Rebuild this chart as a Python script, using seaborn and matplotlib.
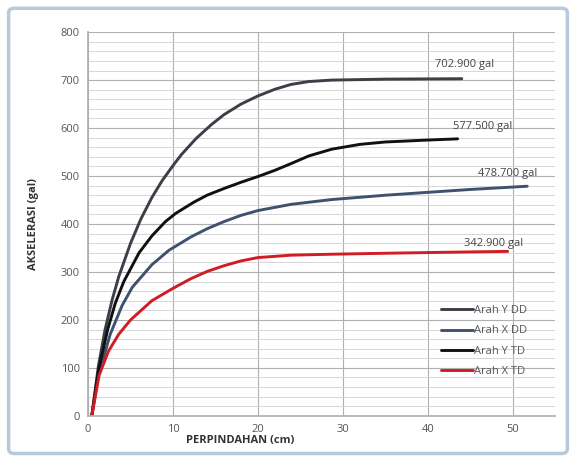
import numpy as np
import pandas as pd
import seaborn as sns
import matplotlib.pyplot as plt
from matplotlib.patches import FancyBboxPatch
from matplotlib.ticker import MultipleLocator

# data (perpindahan cm, akselerasi gal)
y_dd_x = [0.43, 1.22, 2, 2.8, 3.6, 5, 6.2, 7.5, 8.7, 10, 11, 12.7, 14.5, 16, 18, 20, 22, 23.9, 26, 28.7, 35, 44]
y_dd_y = [0, 105, 180, 240, 290, 360, 410, 455, 490, 522, 545, 578, 607, 628, 650, 667, 681, 691, 697, 700, 702, 702.9]

x_dd_x = [0.43, 1.22, 2.6, 4, 5.2, 7.5, 9.5, 12.1, 14, 16, 18, 20, 23.9, 28.7, 35, 40, 45, 51.7]
x_dd_y = [0, 85, 170, 230, 268, 315, 345, 373, 390, 405, 418, 428, 441, 451, 460, 466, 472, 478.7]

y_td_x = [0.43, 1.22, 2.3, 3.2, 4.2, 6, 7.5, 9.1, 10.3, 12.4, 14, 16, 18, 20, 22, 23.9, 26, 28.7, 32, 35, 40, 43.5]
y_td_y = [0, 95, 180, 235, 280, 340, 375, 405, 422, 445, 460, 474, 487, 499, 512, 526, 542, 556, 566, 571, 575, 577.5]

x_td_x = [0.43, 1.3, 2.4, 3.6, 5, 7.5, 10, 12.1, 14, 16, 18, 20, 23.9, 28.7, 35, 42, 49.4]
x_td_y = [0, 85, 135, 170, 200, 240, 266, 286, 301, 313, 323, 330, 335, 337, 339, 341, 342.9]

labels = ['Arah Y DD', 'Arah X DD', 'Arah Y TD', 'Arah X TD']
puncak = ['702.900 gal', '577.500 gal', '478.700 gal', '342.900 gal']

df = pd.concat([
    pd.DataFrame({'x': y_dd_x, 'y': y_dd_y, 'seri': labels[0]}),
    pd.DataFrame({'x': x_dd_x, 'y': x_dd_y, 'seri': labels[1]}),
    pd.DataFrame({'x': y_td_x, 'y': y_td_y, 'seri': labels[2]}),
    pd.DataFrame({'x': x_td_x, 'y': x_td_y, 'seri': labels[3]}),
])

warna = {'Arah Y DD': '#3b3f48', 'Arah X DD': '#3e5270',
         'Arah Y TD': '#111111', 'Arah X TD': '#d01c24'}

sns.set_theme(style='white')
plt.rcParams['font.family'] = ['Open Sans', 'DejaVu Sans']

fig = plt.figure(figsize=(5.76, 4.59), dpi=100)
fig.patches.append(FancyBboxPatch((0.015, 0.012), 0.97, 0.97, boxstyle='round,pad=0,rounding_size=0.01',
                                  transform=fig.transFigure, fill=False,
                                  edgecolor='#b8c9dc', linewidth=2.5))
ax = fig.add_axes([0.153, 0.094, 0.811, 0.836])

sns.lineplot(data=df, x='x', y='y', hue='seri', palette=warna, sort=False,
             linewidth=2.1, ax=ax, estimator=None)

ax.set_xlim(0, 55)
ax.set_ylim(0, 800)
ax.xaxis.set_major_locator(MultipleLocator(10))
ax.yaxis.set_major_locator(MultipleLocator(100))
ax.yaxis.set_minor_locator(MultipleLocator(20))
ax.grid(which='major', color='#b0b0b0', linewidth=0.8)
ax.grid(which='minor', axis='y', color='#d6d6d6', linewidth=0.7)
ax.set_axisbelow(True)
for s in ['top', 'right']:
    ax.spines[s].set_visible(False)
ax.spines['left'].set_color('#b0b0b0')
ax.spines['bottom'].set_color('#b0b0b0')
ax.tick_params(axis='both', labelsize=8, colors='#555555', length=0, pad=6)

ax.set_xlabel('PERPINDAHAN (cm)', fontsize=8, fontweight='bold', color='#333333')
ax.xaxis.set_label_coords(0.325, -0.05)
ax.set_ylabel('AKSELERASI (gal)', fontsize=8, fontweight='bold', color='#333333')
ax.yaxis.set_label_coords(-0.105, 0.5)

# label nilai puncak, digeser seperti di gambar asli (dalam points)
posisi = [(44, 702.9), (43.5, 577.5), (51.7, 478.7), (49.4, 342.9)]
geser = [(2, 6), (18, 5), (-14, 5), (-10, 2)]
for (px, py), (dx, dy), t in zip(posisi, geser, puncak):
    ax.annotate(t, (px, py), xytext=(dx, dy), textcoords='offset points',
                ha='center', va='bottom', fontsize=8, color='#444444')

ax.legend(loc='upper left', bbox_to_anchor=(0.735, 0.315), frameon=False,
          fontsize=8, labelcolor='#555555', handlelength=2.8, labelspacing=0.85,
          handletextpad=0.1, title=None)

plt.savefig('out.png', dpi=100)
